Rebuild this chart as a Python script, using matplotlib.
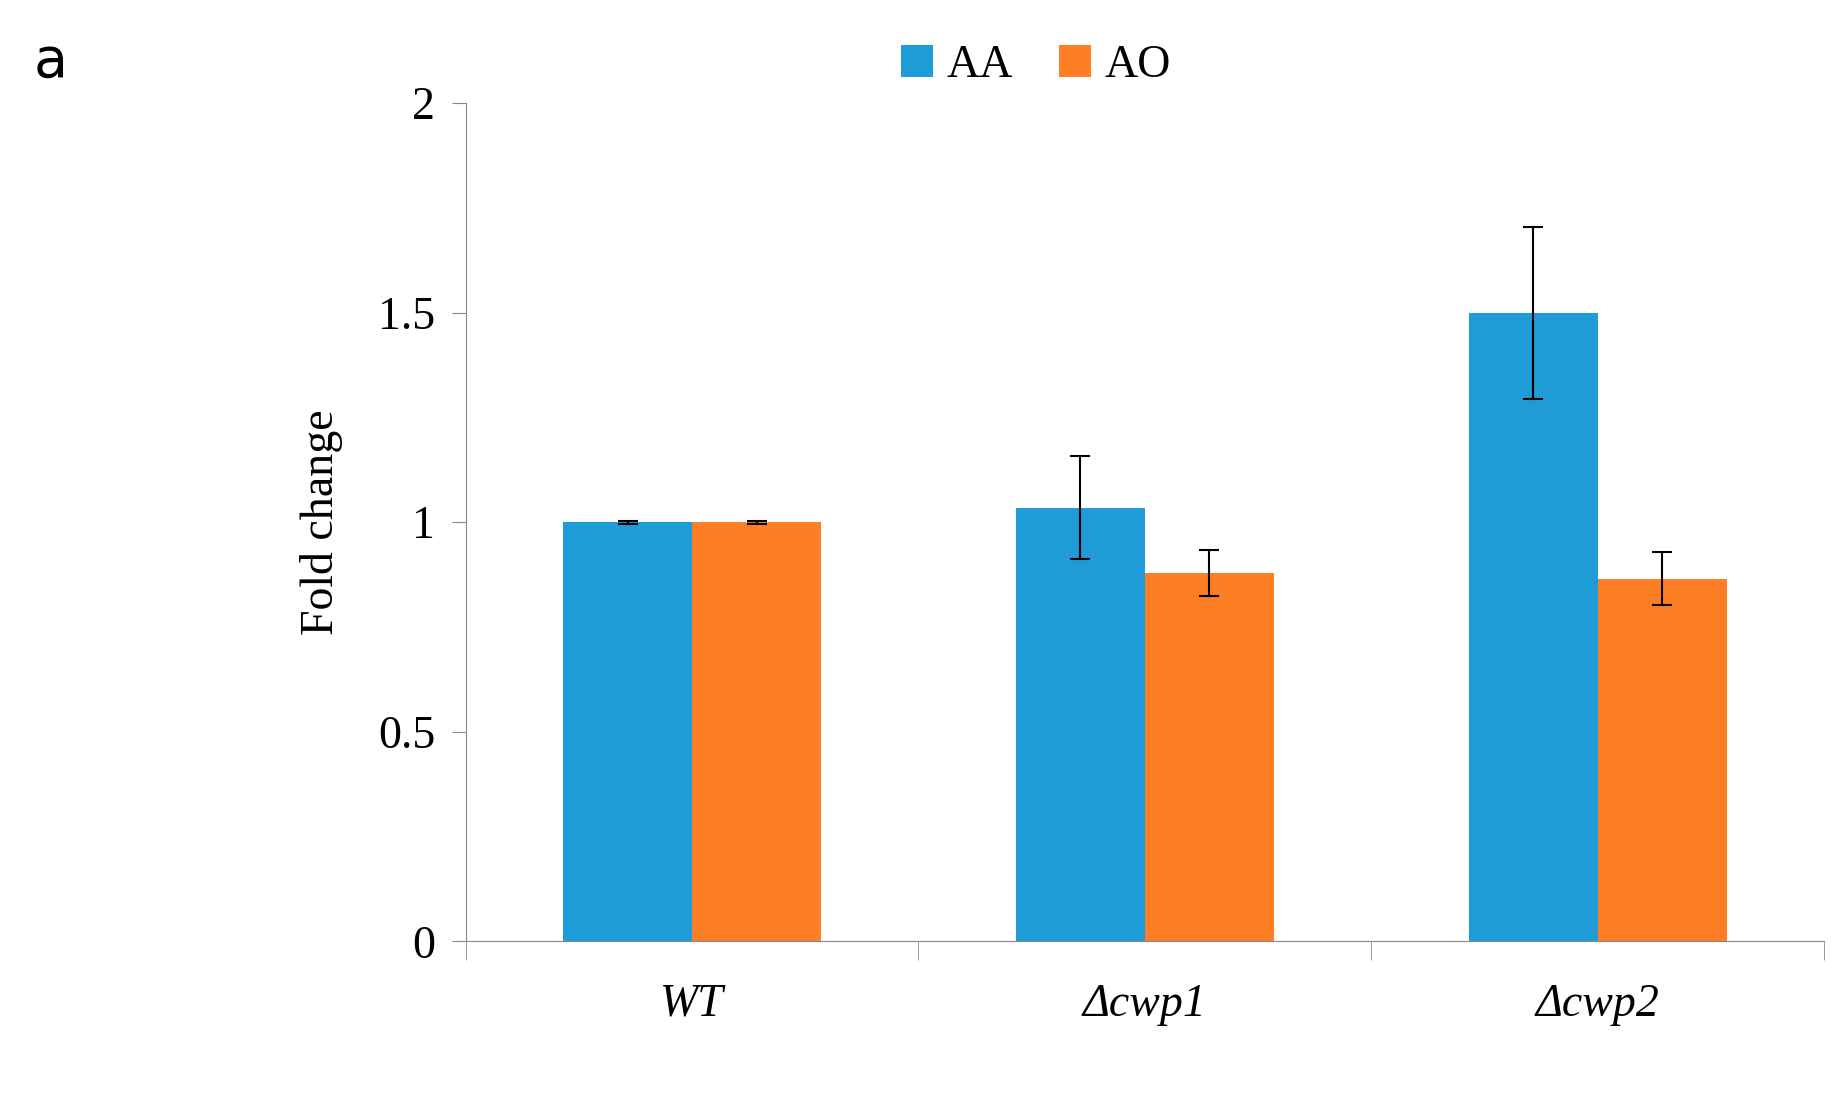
import numpy as np
import matplotlib.pyplot as plt

categories = ["WT", "Δcwp1", "Δcwp2"]
series = ["AA", "AO"]
aa_vals = [1.0, 1.035, 1.5]
ao_vals = [1.0, 0.878, 0.865]
aa_err = [0.003, 0.122, 0.205]
ao_err = [0.003, 0.055, 0.063]
yticks = [0, 0.5, 1, 1.5, 2]
yticklabels = ["0", "0.5", "1", "1.5", "2"]

plt.rcParams["font.family"] = "Liberation Serif"
fig = plt.figure(figsize=(18.48, 10.96), dpi=100)
ax = fig.add_axes([0.252, 0.141, 0.735, 0.765])

x = np.arange(len(categories))
w = 0.285
ax.bar(x - w/2, aa_vals, w, color="#1f9bd7", yerr=aa_err, capsize=7,
       error_kw=dict(elinewidth=1.5, capthick=1.5), label=series[0])
ax.bar(x + w/2, ao_vals, w, color="#fd7e24", yerr=ao_err, capsize=7,
       error_kw=dict(elinewidth=1.5, capthick=1.5), label=series[1])

ax.set_xlim(-0.5, 2.5)
ax.set_ylim(0, 2)
ax.set_yticks(yticks)
ax.set_yticklabels(yticklabels, fontsize=33)
ax.set_xticks(x)
ax.set_xticklabels(categories, fontsize=33, style="italic")
ax.set_xticks([-0.5, 0.5, 1.5, 2.5], minor=True)
ax.tick_params(axis="x", which="major", length=0, pad=30)
ax.tick_params(axis="x", which="minor", length=14, color="#888888")
ax.tick_params(axis="y", length=10, color="#888888", pad=12)
for s in ["top", "right"]:
    ax.spines[s].set_visible(False)
for s in ["left", "bottom"]:
    ax.spines[s].set_color("#888888")
ax.set_ylabel("Fold change", fontsize=33, labelpad=25)

ax.legend(loc="lower center", bbox_to_anchor=(0.42, 0.97), ncol=2, frameon=False,
          fontsize=33, handlelength=0.7, handleheight=0.7, handletextpad=0.3,
          columnspacing=1.0)
fig.text(0.018, 0.93, "a", fontsize=40, family="DejaVu Sans")

fig.savefig("out.png", dpi=100)
